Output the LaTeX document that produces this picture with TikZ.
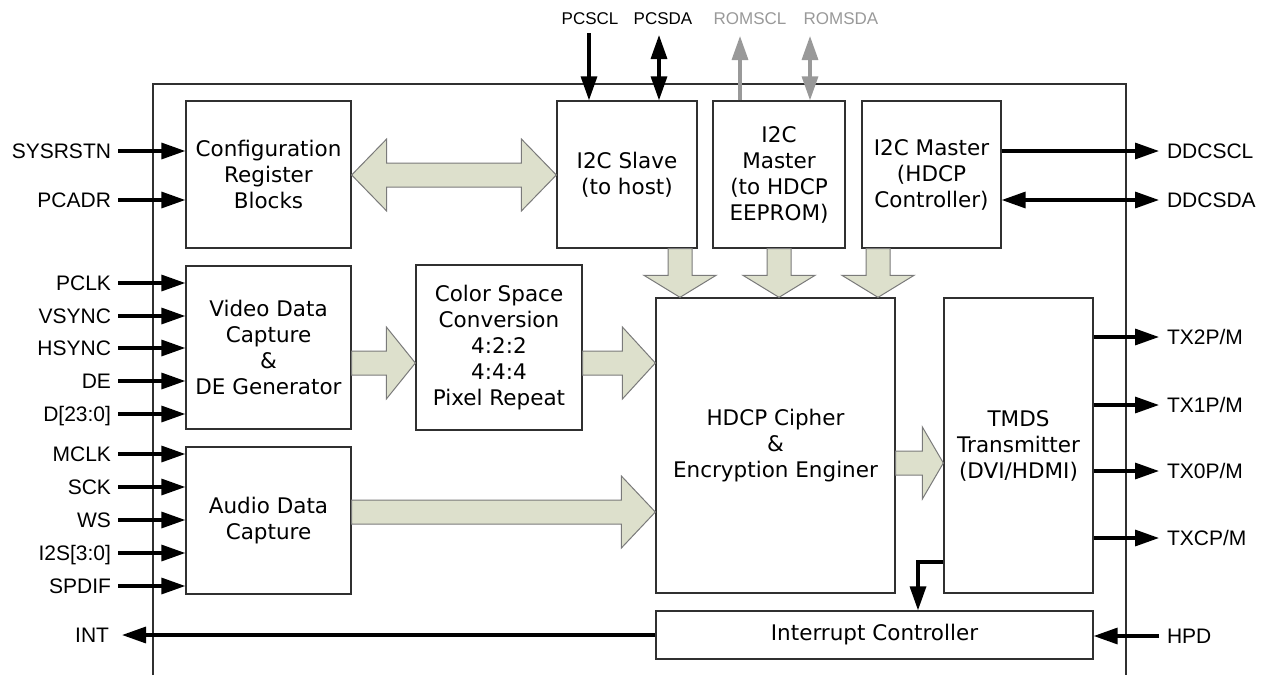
\documentclass[tikz,border=0pt]{standalone}
\usepackage{fontspec}
\setmainfont{DejaVu Sans}
\newfontfamily\pinfont{Liberation Sans}
\usetikzlibrary{arrows.meta,calc}
\definecolor{blkfill}{HTML}{DDE0CC}
\definecolor{blkline}{HTML}{7A7A7A}
\definecolor{boxline}{HTML}{303030}
\definecolor{romgray}{HTML}{999999}
\tikzset{
  blockbox/.style={draw=boxline, line width=1.3pt, inner sep=0pt, align=center,
    font=\fontsize{21.5}{26}\selectfont},
  pinlbl/.style={font=\pinfont\fontsize{21}{21}\selectfont, inner sep=0pt,
    text height=15pt, text depth=0pt},
  toplbl/.style={font=\pinfont\fontsize{17}{17}\selectfont, inner sep=0pt,
    text height=12pt, text depth=0pt},
  sig/.style={line width=3.3pt, -{Triangle[length=24pt,width=16pt]}},
  bisig/.style={line width=3.3pt, {Triangle[length=24pt,width=16pt]}-{Triangle[length=24pt,width=16pt]}},
  blk/.style={draw=blkline, fill=blkfill, line width=1pt, line join=miter},
  chip/.style={draw=boxline, line width=1.4pt},
}
% block arrow pointing right: from #1 to #2 at y=#3, head length #4
\newcommand\blkR[4]{\draw[blk] let \p1=(#1 |- 0,#3), \p2=(#2 |- 0,#3) in
  (\x1,{\y1+12pt}) -- ({\x2-#4pt},{\y1+12pt}) -- ({\x2-#4pt},{\y1+36pt}) -- (\x2,\y1)
  -- ({\x2-#4pt},{\y1-36pt}) -- ({\x2-#4pt},{\y1-12pt}) -- (\x1,{\y1-12pt}) -- cycle;}
% block arrow pointing down: from #1 to #2 at x=#3, head length #4
\newcommand\blkD[4]{\draw[blk] let \p1=(#3,0 |- #1), \p2=(#3,0 |- #2) in
  ({\x1+12pt},\y1) -- ({\x1+12pt},{\y2+#4pt}) -- ({\x1+36pt},{\y2+#4pt}) -- (\x1,\y2)
  -- ({\x1-36pt},{\y2+#4pt}) -- ({\x1-12pt},{\y2+#4pt}) -- ({\x1-12pt},\y1) -- cycle;}
% double block arrow: between #1 and #2 at y=#3, head length #4
\newcommand\blkLR[4]{\draw[blk] let \p1=(#1 |- 0,#3), \p2=(#2 |- 0,#3) in
  (\x1,\y1) -- ({\x1+#4pt},{\y1+36pt}) -- ({\x1+#4pt},{\y1+12pt}) -- ({\x2-#4pt},{\y1+12pt})
  -- ({\x2-#4pt},{\y1+36pt}) -- (\x2,\y1) -- ({\x2-#4pt},{\y1-36pt}) -- ({\x2-#4pt},{\y1-12pt})
  -- ({\x1+#4pt},{\y1-12pt}) -- ({\x1+#4pt},{\y1-36pt}) -- cycle;}
\begin{document}
\begin{tikzpicture}[x=1pt,y=-1pt]
\useasboundingbox (0,0) rectangle (1271,675);
% chip outline (open at the bottom)
\draw[chip] (153,675) -- (153,84) -- (1126,84) -- (1126,675);

% blocks
\node[blockbox, minimum width=165pt, minimum height=147pt] (cfg) at (268.5,174.5) {Configuration\\Register\\Blocks};
\node[blockbox, minimum width=140pt, minimum height=147pt] (slave) at (627,174.5) {I2C Slave\\(to host)};
\node[blockbox, minimum width=132pt, minimum height=147pt] (romm) at (779,174.5) {I2C\\Master\\(to HDCP\\EEPROM)};
\node[blockbox, minimum width=139pt, minimum height=147pt] (hdcpm) at (931.5,174.5) {I2C Master\\(HDCP\\Controller)};
\node[blockbox, minimum width=165pt, minimum height=163pt] (video) at (268.5,347.5) {Video Data\\Capture\\\&\\DE Generator};
\node[blockbox, minimum width=166pt, minimum height=165pt] (csc) at (499,347.5) {Color Space\\Conversion\\4:2:2\\4:4:4\\Pixel Repeat};
\node[blockbox, minimum width=165pt, minimum height=147pt] (audio) at (268.5,520.5) {Audio Data\\Capture};
\node[blockbox, minimum width=239pt, minimum height=295pt] (hdcp) at (775.5,445.5) {HDCP Cipher\\\&\\Encryption Enginer};
\node[blockbox, minimum width=149pt, minimum height=295pt] (tmds) at (1018.5,445.5) {TMDS\\Transmitter\\(DVI/HDMI)};
\node[blockbox, minimum width=437pt, minimum height=48pt] (intc) at (874.5,635) {Interrupt Controller};

% block (bus) arrows
\blkLR{cfg.east}{slave.west}{175}{35}
\blkR{video.east}{csc.west}{363}{29}
\blkR{csc.east}{hdcp.west}{363}{33}
\blkR{audio.east}{hdcp.west}{512}{34}
\blkR{hdcp.east}{tmds.west}{463}{21}
\blkD{slave.south}{hdcp.north}{680}{22}
\blkD{romm.south}{hdcp.north}{779}{22}
\blkD{hdcpm.south}{hdcp.north}{878}{22}

% top pins
\node[toplbl] (pcscl) at (590,18) {PCSCL};
\node[toplbl] (pcsda) at (663,18) {PCSDA};
\node[toplbl, text=romgray] (romscl) at (750,18) {ROMSCL};
\node[toplbl, text=romgray] (romsda) at (841,18) {ROMSDA};
\coordinate (pcsclT) at (589,33);
\coordinate (pcsdaT) at (659,35);
\coordinate (romsclT) at (740,36);
\coordinate (romsdaT) at (810,36);
\draw[sig] (pcsclT) -- (pcsclT |- slave.north);
\draw[bisig] (pcsdaT) -- (pcsdaT |- slave.north);
\draw[sig, draw=romgray, fill=romgray] (romsclT |- romm.north) -- (romsclT);
\draw[bisig, draw=romgray, fill=romgray] (romsdaT) -- (romsdaT |- romm.north);

% left pins
\foreach \nm/\txt/\yy in {sysrstn/SYSRSTN/151, pcadr/PCADR/200} {
  \node[pinlbl, anchor=east, outer xsep=7pt] (\nm) at (118,\yy) {\txt};
  \draw[sig] (\nm.east) -- (\nm.east -| cfg.west);
}
\foreach \nm/\txt/\yy in {pclk/PCLK/283, vsync/VSYNC/316, hsync/HSYNC/348, de/DE/381, dbus/{D[23:0]}/414} {
  \node[pinlbl, anchor=east, outer xsep=7pt] (\nm) at (118,\yy) {\txt};
  \draw[sig] (\nm.east) -- (\nm.east -| video.west);
}
\foreach \nm/\txt/\yy in {mclk/MCLK/454, sck/SCK/487, ws/WS/520, itws/{I2S[3:0]}/553, spdif/SPDIF/586} {
  \node[pinlbl, anchor=east, outer xsep=7pt] (\nm) at (118,\yy) {\txt};
  \draw[sig] (\nm.east) -- (\nm.east -| audio.west);
}
\node[pinlbl, anchor=east, outer xsep=13pt] (int) at (122,635) {INT};
\draw[sig] (intc.west) -- (int.east);

% right pins
\node[pinlbl, anchor=west, outer xsep=8pt] (ddcscl) at (1159,151) {DDCSCL};
\node[pinlbl, anchor=west, outer xsep=8pt] (ddcsda) at (1159,200) {DDCSDA};
\draw[sig] (ddcscl.west -| hdcpm.east) -- (ddcscl.west);
\draw[bisig] (ddcsda.west -| hdcpm.east) -- (ddcsda.west);
\node[pinlbl, anchor=west, outer xsep=8pt] (txtwo) at (1159,337) {TX2P/M};
\node[pinlbl, anchor=west, outer xsep=8pt] (txone) at (1159,405) {TX1P/M};
\node[pinlbl, anchor=west, outer xsep=8pt] (txzero) at (1159,471) {TX0P/M};
\node[pinlbl, anchor=west, outer xsep=8pt] (txc) at (1159,538) {TXCP/M};
\foreach \nm in {txtwo, txone, txzero, txc} {
  \draw[sig] (\nm.west -| tmds.east) -- (\nm.west);
}
\node[pinlbl, anchor=west, outer xsep=8pt] (hpd) at (1159,636) {HPD};
\draw[sig] (hpd.west) -- (hpd.west -| intc.east);

% TMDS -> interrupt controller
\draw[sig, line join=miter] (tmds.west |- 0,562) -| (intc.north -| 918,0);
\end{tikzpicture}
\end{document}
